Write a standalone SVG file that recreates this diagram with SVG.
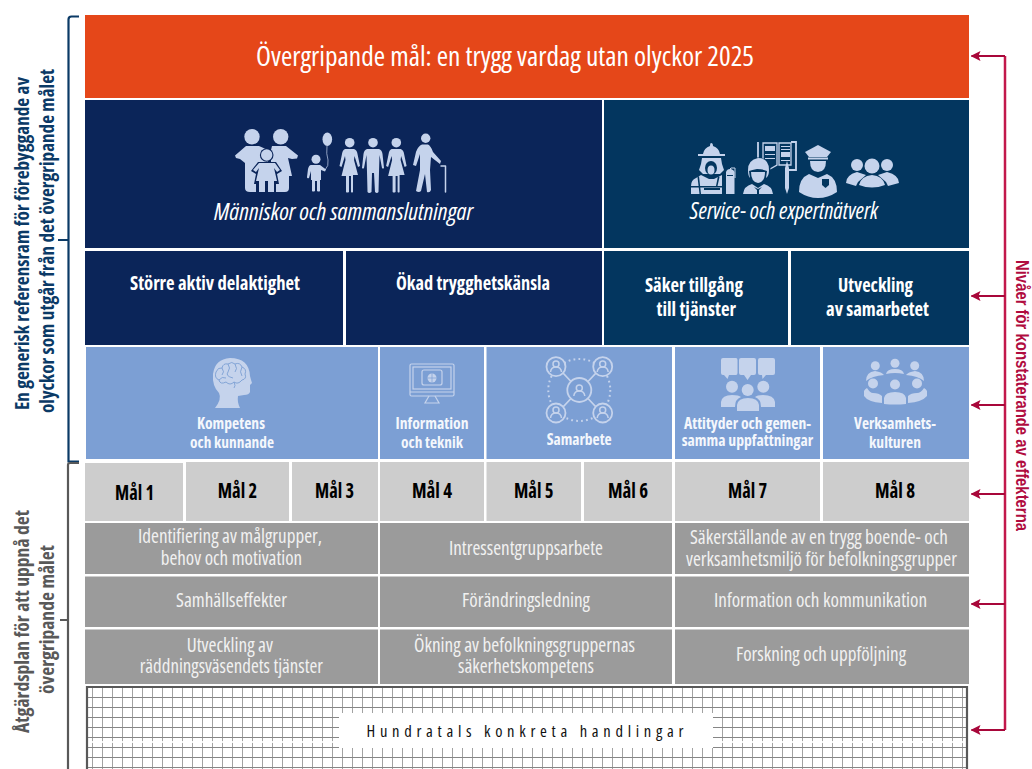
<svg xmlns="http://www.w3.org/2000/svg" width="1032" height="769" viewBox="0 0 1032 769">
<style>
text{font-family:"Open Sans","Noto Sans","Liberation Sans",sans-serif;font-stretch:75%}
.t{fill:#fff}
.g{fill:#f1f1f1;font-size:19.500px}
.b{fill:#fff;font-weight:700;font-size:19px}
.l{fill:#f4f7fc;font-weight:700;font-size:15.500px}
.m{fill:#000;font-weight:700;font-size:20.500px}
.i{fill:#fff;font-style:italic;font-size:23px}
.s{fill:#0B3A66;font-weight:700;font-size:20px}
.sg{fill:#595959;font-weight:700;font-size:20px}
.ic{fill:#C5D3EC}
.ol{fill:none;stroke:#C5D3EC;stroke-width:1.8}
.arm{fill:none;stroke:#C5D3EC;stroke-linecap:round;stroke-linejoin:round}
.dk{fill:#03365F}
.nv{fill:#0B2559}
.lb{fill:#7C9FD4}
.red{stroke:#A8073A;stroke-width:2.200;fill:none}
</style>
<defs>
<marker id="ah" markerWidth="10" markerHeight="10" refX="9" refY="5" orient="auto" markerUnits="userSpaceOnUse"><path d="M0 0L10 5L0 10L2 5Z" fill="#A8073A"/></marker>
<pattern id="gp" x="92" y="687" width="10" height="10" patternUnits="userSpaceOnUse"><path d="M.5 0V10" stroke="#a2a2a2" stroke-width="1" fill="none"/><path d="M0 .5H10" stroke="#868686" stroke-width="1" fill="none"/></pattern>
<g id="pc"><circle cx="0" cy="-3" r="3" fill="none" stroke="#C5D3EC" stroke-width="1.500"/><path d="M-5.500 5Q-5 0 0 0Q5 0 5.500 5" fill="none" stroke="#C5D3EC" stroke-width="1.500"/></g>
</defs>

<g id="goal"><rect x="85" y="15" width="884" height="83" fill="#E54719"/><text class="t" x="256" y="66" font-size="28" textLength="498" lengthAdjust="spacingAndGlyphs">Övergripande mål: en trygg vardag utan olyckor 2025</text></g>

<g id="people">
<rect x="85" y="100" width="517" height="148" class="nv"/>
<g id="people-icon">
<circle cx="252" cy="136.700" r="7.700" class="ic"/><circle cx="280.700" cy="136.700" r="7.700" class="ic"/>
<path class="ic" d="M246 146H259L268 150V188Q268 192 264 192H250Q245 192 245 188V163L240 159L236 158L235 155.500Z"/>
<path class="ic" d="M272 146H286L298 155.500L297 158.500L292 159L288 158L292 176H289V188Q289 192 285 192H276Q272 192 271 188V150Z"/>
<circle cx="266.700" cy="155" r="6.800" class="nv"/>
<path class="nv" d="M258 162H276L282 171L277 174L279 184H276V193H256V184H254L256 174L251 171Z"/>
<circle cx="266.700" cy="155" r="5.700" class="ic"/>
<path class="ic" d="M259 163H275L280 170L277 172L274 168L277 181H274V192H268V181H265V192H259V181H256L259 168L256 172L253 170Z"/>
<circle cx="316" cy="159.300" r="4.500" class="ic"/>
<path class="ic" d="M311 165H320L326 169.500L325 171.500L321 170V180H320V191Q319 192 317 191V181H315V191Q313 192 312 191V180H311V171L309 178Q307 179 307 177L308 169Q309 165 311 165Z"/>
<ellipse cx="327.300" cy="139.300" rx="4.800" ry="6.800" class="ic"/><path d="M327 146Q326 154 328 160Q329 166 325 170" fill="none" stroke="#C5D3EC" stroke-width=".7"/>
<g id="woman"><circle cx="349.700" cy="142.700" r="4.800" class="ic"/><path class="ic" d="M345 149H354Q357 150 357.500 154L360 166L358 167L354.500 156L354 160L358 175H353V192Q352 193 351 192V176H349V192Q347 193 346 192V176H341.500L345.500 160L345 156L341.500 167L339.500 166L342 154Q342.500 150 345 149Z"/></g>
<use href="#woman" x="46.600"/>
<circle cx="373" cy="142.700" r="4.800" class="ic"/><path class="ic" d="M367 149H379Q382 150 382.500 154L384 168Q383 169 382 168L379.500 155L379 172L378.500 192Q377 194 375 192L374 173H372L371.500 192Q369 194 367.500 192L367 172L366.500 155L364 168Q363 169 362 168L363.500 154Q364 150 367 149Z"/>
<circle cx="425.700" cy="138.300" r="4.700" class="ic"/><path class="ic" d="M422 144.500H428Q431 146 433 152L441 161L440 164L431 157L430 170L431 190Q430 193 427 192L425 174L421 191Q419 193 416 191L420 170V154L416 166L413 165L416 152Q418 146 422 144.500Z"/>
<path class="arm" stroke-width="1.500" d="M441 166H445.500V192"/>
</g>
<text class="i" x="214" y="220" textLength="259" lengthAdjust="spacingAndGlyphs">Människor och sammanslutningar</text>
</g>

<g id="service">
<rect x="604" y="100" width="365" height="148" class="dk"/>
<g id="service-icon">
<path class="ic" d="M711 143Q713 143 713 146Q719 148 720 154H725V156H698V154H703Q704 148 710 146Q710 143 711 143Z"/>
<path class="ic" d="M702 158H721L722 164L724 170L720 174H703L699 170L701 164Z"/><ellipse cx="711" cy="168" rx="6" ry="7" class="dk"/><ellipse cx="711" cy="170" rx="3.500" ry="4.500" class="ic"/>
<path class="ic" d="M701 175L709 179H714L722 175L722 194H691V186Q691 180 696 178Z"/>
<path class="dk" d="M691 186H722V187.500H691ZM704 188H720V190H704ZM699 176L701 194H699.500L697.500 177ZM718 176L716 186H717.500L719.500 177Z"/>
<path class="ic" d="M726 172Q727 169 730 169V168H731V169Q734 170 734.500 172V194H726Z"/><path class="ol" style="stroke-width:1" d="M731 168H735V178"/><rect x="727" y="175" width="6" height="1" class="dk"/>
<path class="ol" d="M758 142V166H768M791 142H796V170H785"/>
<path class="ol" style="stroke-width:1.300" d="M763 143H777V165L770 169L763 165ZM779 143H791V165H779Z"/>
<rect x="765" y="146" width="10" height="5" class="ic"/><rect x="781" y="152" width="9" height="5" class="ic"/><path class="ic" d="M765 154H775V155H765ZM765 158H775V159H765ZM781 146H790V147H781ZM781 149H790V150H781ZM781 160H790V161H781Z"/>
<path class="ic" d="M785 168L787 161L789 168V188L787 194L785 188Z"/>
<circle cx="758" cy="170" r="12.500" class="dk"/>
<path class="ic" d="M758 158Q769 158 769 170Q769 176 766 178L767 171Q763 169 757 169Q752 170 749 171L750 178Q748 176 748 170Q748 160 758 158Z"/>
<path class="ic" d="M751 172H765Q765 182 758 183Q751 182 751 172Z"/>
<path class="ic" d="M752 184L758 188L764 184Q772 186 773 194H743Q744 186 752 184Z"/><path class="dk" d="M754 187L758 189L762 187L759 190V194H757V190Z"/>
<path class="ic" d="M818 145L831 152L827 157H809L805 152Z"/><rect x="808" y="157.500" width="20" height="2" class="ic"/>
<path class="ic" d="M810 161H826Q826 172 818 172Q810 172 810 161Z"/>
<path class="ic" d="M809 174L818 178L827 174Q837 178 837 192Q828 198 818 198Q808 198 799 192Q799 178 809 174Z"/>
<path class="dk" d="M822 179H829V185L825.500 188L822 185Z"/>
<circle cx="857" cy="165" r="6" class="ic"/><circle cx="887" cy="165" r="6" class="ic"/>
<path class="ic" d="M846 183Q846 175 857 172L866 175L858 182L856 186ZM899 183Q899 175 887 172L878 175L886 182L888 186Z"/>
<circle cx="872" cy="166" r="7.500" class="ic"/>
<path class="ic" d="M859 185Q861 176 872 175Q883 176 885 185Q872 190 859 185Z"/>
</g>
<text class="i" x="690" y="219" textLength="188" lengthAdjust="spacingAndGlyphs">Service- och expertnätverk</text>
</g>

<g id="c1"><rect x="85" y="251" width="258" height="94" class="nv"/><text class="b" x="130" y="290" textLength="170" lengthAdjust="spacingAndGlyphs">Större aktiv delaktighet</text></g>
<g id="c2"><rect x="346" y="251" width="256" height="94" class="nv"/><text class="b" x="396" y="290" textLength="154" lengthAdjust="spacingAndGlyphs">Ökad trygghetskänsla</text></g>
<g id="c3"><rect x="604" y="251" width="184" height="94" class="dk"/><text class="b" x="645" y="292" textLength="98" lengthAdjust="spacingAndGlyphs">Säker tillgång</text><text class="b" x="656.500" y="316" textLength="79.500" lengthAdjust="spacingAndGlyphs">till tjänster</text></g>
<g id="c4"><rect x="791" y="251" width="178" height="94" class="dk"/><text class="b" x="838" y="292" textLength="75" lengthAdjust="spacingAndGlyphs">Utveckling</text><text class="b" x="826" y="316" textLength="103" lengthAdjust="spacingAndGlyphs">av samarbetet</text></g>

<g id="d1"><rect x="86" y="347" width="292" height="112" class="lb"/>
<path class="ic" d="M230 358Q249 358 250 376Q251 380 252 383L250 385V392Q249 395 244 395L238 396Q237 402 240 408H215Q222 399 219 393Q212 386 213 374Q215 359 230 358Z"/>
<path d="M216 372Q218 367 222 368Q223 363 228 364Q232 361 235 364Q240 362 242 367Q247 369 245 374Q247 379 242 380Q238 385 234 382Q230 386 226 382Q220 385 219 380Q214 378 216 372M222 368Q225 372 222 375M228 364Q231 368 228 372T233 378M235 364Q238 369 235 372M242 367Q239 372 242 376M219 380Q222 376 226 378M234 382Q236 386 234 388" fill="none" stroke="#7C9FD4" stroke-width=".9"/>
<text class="l" x="197" y="429" textLength="68" lengthAdjust="spacingAndGlyphs">Kompetens</text><text class="l" x="190" y="448" textLength="84" lengthAdjust="spacingAndGlyphs">och kunnande</text></g>
<g id="d2"><rect x="380" y="347" width="104" height="112" class="lb"/>
<rect x="410" y="364" width="44" height="32" rx="1.500" class="ol" style="stroke-width:1.200"/><rect x="413" y="367" width="38" height="22" class="ol" style="stroke-width:1.200"/><path class="ol" style="stroke-width:1.200" d="M410 392H454M429 396L425 403H439L435 396"/><rect x="422" y="370" width="20" height="15" rx="2" class="ol" style="stroke-width:1.200"/><circle cx="432" cy="378" r="4.500" class="ic"/><path d="M427.500 378H436.500M432 373.500V382.500" stroke="#7C9FD4" stroke-width=".7"/>
<text class="l" x="395.500" y="429" textLength="73" lengthAdjust="spacingAndGlyphs">Information</text><text class="l" x="401" y="448" textLength="62" lengthAdjust="spacingAndGlyphs">och teknik</text></g>
<g id="d3"><rect x="486.500" y="347" width="185.500" height="112" class="lb"/>
<circle cx="579.300" cy="390" r="31" fill="none" stroke="#C5D3EC" stroke-width="2" stroke-dasharray="1.800 3.200"/>
<path class="ol" d="M563 373L571 381.500M596 373L588 381.500M563 407L571 398.500M596 407L588 398.500"/>
<circle cx="556" cy="366.700" r="9.500" fill="#7C9FD4" stroke="#C5D3EC" stroke-width="1.800"/><circle cx="602.700" cy="366.700" r="9.500" fill="#7C9FD4" stroke="#C5D3EC" stroke-width="1.800"/><circle cx="556" cy="413" r="9.500" fill="#7C9FD4" stroke="#C5D3EC" stroke-width="1.800"/><circle cx="602.700" cy="413" r="9.500" fill="#7C9FD4" stroke="#C5D3EC" stroke-width="1.800"/><circle cx="579.300" cy="390" r="12" fill="#7C9FD4" stroke="#C5D3EC" stroke-width="1.800"/>
<use href="#pc" x="556" y="367"/><use href="#pc" x="602.700" y="367"/><use href="#pc" x="556" y="413"/><use href="#pc" x="602.700" y="413"/><use href="#pc" x="579.300" y="391"/>
<text class="l" x="546.700" y="445" textLength="65" lengthAdjust="spacingAndGlyphs">Samarbete</text></g>
<g id="d4"><rect x="675" y="347" width="145" height="112" class="lb"/>
<path class="ic" d="M723 358H736Q737.500 358 737.500 360V373Q737.500 375 736 375H729L727.500 379L724 375H723Q721 375 721 373V360Q721 358 723 358Z"/>
<path class="ic" d="M741 358H754Q756 358 756 360V373Q756 375 754 375H751L747.500 380L744 375H741Q739 375 739 373V360Q739 358 741 358Z"/>
<path class="ic" d="M760 358H773Q775 358 775 360V373Q775 375 773 375H766L762.500 379L762 375H760Q758 375 758 373V360Q758 358 760 358Z"/>
<circle cx="732" cy="386.700" r="6" class="ic"/><circle cx="763.300" cy="386.700" r="6" class="ic"/><circle cx="747.700" cy="390" r="6" class="ic"/>
<path class="ic" d="M721 407V402Q722 395 732 395Q739 395 741 397Q735 399 735 407ZM775 407V402Q774 395 763 395Q757 395 755 397Q761 399 761 407Z"/>
<path class="ic" d="M737 411V405Q738 398 748 398Q758 398 759 405V411Z"/>
<text class="l" x="684" y="429" textLength="127" lengthAdjust="spacingAndGlyphs">Attityder och gemen-</text><text class="l" x="681.700" y="445.500" textLength="131.500" lengthAdjust="spacingAndGlyphs">samma uppfattningar</text></g>
<g id="d5"><rect x="823" y="347" width="146" height="112" class="lb"/>
<circle cx="875.300" cy="365.700" r="4.500" class="ic"/><circle cx="895" cy="363.300" r="4.500" class="ic"/><circle cx="914.700" cy="365.700" r="4.500" class="ic"/>
<path class="ic" d="M886 374Q887 369 895 369Q903 369 904 374Q895 372 886 374Z"/>
<path class="ic" d="M866 381Q866 372 875 371Q882 372 884 375Q872 376 866 381ZM924 381Q924 372 915 371Q908 372 906 375Q918 376 924 381Z"/>
<circle cx="873" cy="383.500" r="5" class="ic"/><circle cx="895" cy="384.500" r="5" class="ic"/><circle cx="917" cy="383.500" r="5" class="ic"/>
<path class="ic" d="M864 391Q865 389 867 388Q870 393 873 393Q879 393 882 396V403Q868 402 864 396ZM927 391Q926 389 924 388Q921 393 917 393Q911 393 908 396V403Q922 402 927 396Z"/>
<path class="ic" d="M884 404V398Q885 392 895 392Q905 392 906 398V404Q895 405 884 404Z"/>
<text class="l" x="854" y="429" textLength="82" lengthAdjust="spacingAndGlyphs">Verksamhets-</text><text class="l" x="869" y="448" textLength="52" lengthAdjust="spacingAndGlyphs">kulturen</text></g>

<g id="mal1"><rect x="85" y="463" width="98" height="58" fill="#CDCDCD"/><text class="m" x="115" y="500" textLength="39" lengthAdjust="spacingAndGlyphs">Mål 1</text></g>
<g id="mal2"><rect x="186" y="462" width="103" height="59" fill="#CDCDCD"/><text class="m" x="217.700" y="498" textLength="39.500" lengthAdjust="spacingAndGlyphs">Mål 2</text></g>
<g id="mal3"><rect x="292" y="462" width="86" height="59" fill="#CDCDCD"/><text class="m" x="315" y="498" textLength="39" lengthAdjust="spacingAndGlyphs">Mål 3</text></g>
<g id="mal4"><rect x="380" y="462" width="104" height="59" fill="#CDCDCD"/><text class="m" x="412" y="498" textLength="40" lengthAdjust="spacingAndGlyphs">Mål 4</text></g>
<g id="mal5"><rect x="486.500" y="462" width="94.500" height="59" fill="#CDCDCD"/><text class="m" x="514" y="498" textLength="39.500" lengthAdjust="spacingAndGlyphs">Mål 5</text></g>
<g id="mal6"><rect x="584" y="462" width="88" height="59" fill="#CDCDCD"/><text class="m" x="608" y="498" textLength="40" lengthAdjust="spacingAndGlyphs">Mål 6</text></g>
<g id="mal7"><rect x="675" y="462" width="145" height="59" fill="#CDCDCD"/><text class="m" x="728" y="498" textLength="39" lengthAdjust="spacingAndGlyphs">Mål 7</text></g>
<g id="mal8"><rect x="823" y="462" width="146" height="59" fill="#CDCDCD"/><text class="m" x="875" y="498" textLength="40" lengthAdjust="spacingAndGlyphs">Mål 8</text></g>

<g fill="#9B9B9B">
<g id="a1"><rect x="85" y="523" width="293" height="51"/><text class="g" x="138" y="543" textLength="184" lengthAdjust="spacingAndGlyphs">Identifiering av målgrupper,</text><text class="g" x="160.700" y="565" textLength="141.500" lengthAdjust="spacingAndGlyphs">behov och motivation</text></g>
<g id="a2"><rect x="380" y="523" width="292" height="51"/><text class="g" x="449" y="555" textLength="154" lengthAdjust="spacingAndGlyphs">Intressentgruppsarbete</text></g>
<g id="a3"><rect x="675" y="523" width="294" height="51"/><text class="g" x="690" y="544" textLength="258" lengthAdjust="spacingAndGlyphs">Säkerställande av en trygg boende- och</text><text class="g" x="686" y="566" textLength="271" lengthAdjust="spacingAndGlyphs">verksamhetsmiljö för befolkningsgrupper</text></g>
<g id="a4"><rect x="85" y="576.500" width="293" height="50.500"/><text class="g" x="176" y="607" textLength="111" lengthAdjust="spacingAndGlyphs">Samhällseffekter</text></g>
<g id="a5"><rect x="380" y="576.500" width="292" height="50.500"/><text class="g" x="462" y="607" textLength="128" lengthAdjust="spacingAndGlyphs">Förändringsledning</text></g>
<g id="a6"><rect x="675" y="576.500" width="294" height="50.500"/><text class="g" x="714" y="607" textLength="213" lengthAdjust="spacingAndGlyphs">Information och kommunikation</text></g>
<g id="a7"><rect x="85" y="629.500" width="293" height="54.500"/><text class="g" x="186.700" y="652" textLength="86.300" lengthAdjust="spacingAndGlyphs">Utveckling av</text><text class="g" x="139.700" y="673" textLength="183.300" lengthAdjust="spacingAndGlyphs">räddningsväsendets tjänster</text></g>
<g id="a8"><rect x="380" y="629.500" width="292" height="54.500"/><text class="g" x="414" y="652" textLength="221" lengthAdjust="spacingAndGlyphs">Ökning av befolkningsgruppernas</text><text class="g" x="458" y="673" textLength="136" lengthAdjust="spacingAndGlyphs">säkerhetskompetens</text></g>
<g id="a9"><rect x="675" y="629.500" width="294" height="54.500"/><text class="g" x="736" y="661" textLength="170" lengthAdjust="spacingAndGlyphs">Forskning och uppföljning</text></g>
</g>

<g id="actions">
<rect x="87" y="688" width="880" height="81" fill="url(#gp)"/>
<rect x="87" y="741" width="880" height="2" fill="#fff" fill-opacity=".85"/>
<path d="M87 769V687H967V769" fill="none" stroke="#595959" stroke-width="2.200"/>
<rect x="339" y="713" width="374" height="35" fill="#fff"/>
<text x="366.500" y="737" fill="#111" font-size="16.500" textLength="317" lengthAdjust="spacing">Hundratals konkreta handlingar</text>
</g>

<g id="connectors">
<path d="M79 16.500H71.500Q68.500 16.500 68.500 19.500V461.500H79M58 240H68.500" fill="none" stroke="#0B3A66" stroke-width="2.200"/>
<path d="M79 463H70Q68 463 68 465V769M60 620H68" fill="none" stroke="#595959" stroke-width="2.200"/>
<path d="M1005 56V730" fill="none" stroke="#C2184B" stroke-width="2.500"/>
<path class="red" marker-end="url(#ah)" d="M1005 56H971.500"/>
<path class="red" marker-end="url(#ah)" d="M1005 296H971.500"/>
<path class="red" marker-end="url(#ah)" d="M1005 405H971.500"/>
<path class="red" marker-end="url(#ah)" d="M1005 494H971.500"/>
<path class="red" marker-end="url(#ah)" d="M1005 604H971.500"/>
<path class="red" marker-end="url(#ah)" d="M1005 730H971.500"/>
</g>

<g id="side-labels">
<text class="s" transform="translate(29 410) rotate(-90)" textLength="333" lengthAdjust="spacingAndGlyphs">En generisk referensram för förebyggande av</text>
<text class="s" transform="translate(54 413) rotate(-90)" textLength="344" lengthAdjust="spacingAndGlyphs">olyckor som utgår från det övergripande målet</text>
<text class="sg" transform="translate(29 733) rotate(-90)" textLength="223" lengthAdjust="spacingAndGlyphs">Åtgärdsplan för att uppnå det</text>
<text class="sg" transform="translate(54 694) rotate(-90)" textLength="149" lengthAdjust="spacingAndGlyphs">övergripande målet</text>
<text transform="translate(1016 260) rotate(90)" fill="#B00C3F" font-weight="700" font-size="17.500" style="font-family:'Liberation Sans',Arial,sans-serif" textLength="271" lengthAdjust="spacingAndGlyphs">Nivåer för konstaterande av effekterna</text>
</g>
</svg>
